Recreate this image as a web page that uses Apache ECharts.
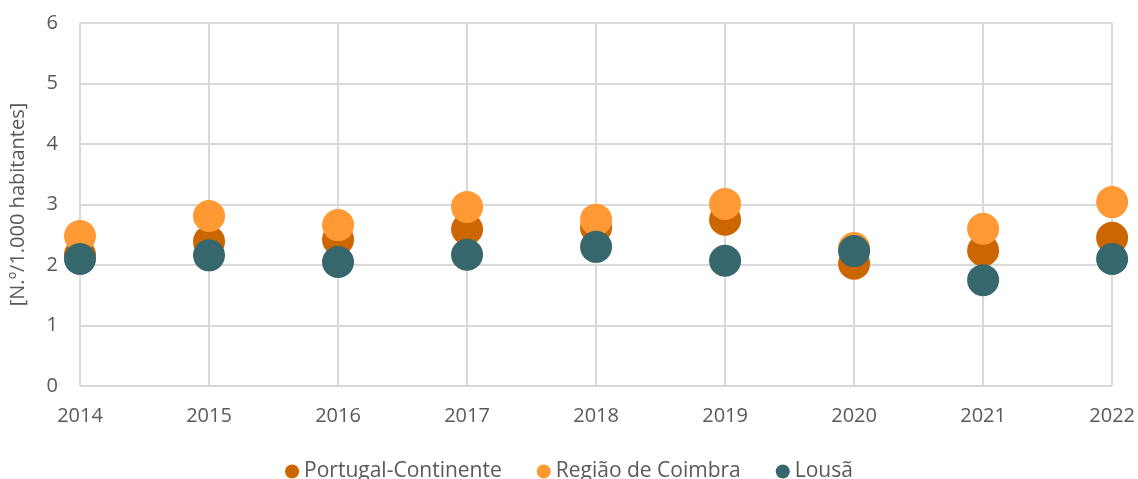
<!DOCTYPE html>
<html>
<head>
<meta charset="utf-8">
<script src="https://cdn.jsdelivr.net/npm/echarts@6/dist/echarts.min.js"></script>
<style>
  html, body { margin: 0; padding: 0; background: #fff; }
  #chart { width: 1138px; height: 479px; }
</style>
</head>
<body>
<div id="chart"></div>
<script>
// Years on the horizontal axis
const years = [2014, 2015, 2016, 2017, 2018, 2019, 2020, 2021, 2022];

// Rates per 1,000 inhabitants
const portugalContinente = [2.17, 2.39, 2.42, 2.59, 2.62, 2.75, 2.02, 2.24, 2.45];
const regiaoCoimbra      = [2.48, 2.81, 2.66, 2.96, 2.75, 3.01, 2.28, 2.60, 3.04];
const lousa              = [2.10, 2.16, 2.05, 2.17, 2.30, 2.07, 2.23, 1.75, 2.10];

const seriesNames = ['Portugal-Continente', 'Região de Coimbra', 'Lousã'];
const seriesColors = ['#CC6600', '#FF9933', '#36676D'];
const seriesValues = [portugalContinente, regiaoCoimbra, lousa];

const FONT = '"Open Sans", "Noto Sans", sans-serif';
const TEXT = '#595959';
const SIZE = 20;

const chart = echarts.init(document.getElementById('chart'));
chart.setOption({
  animation: false,
  grid: { left: 78, right: 25, top: 23, bottom: 93 },
  legend: {
    bottom: -8,
    left: 'center',
    icon: 'circle',
    itemWidth: 14,
    itemHeight: 14,
    itemGap: 35,
    textStyle: { fontFamily: FONT, fontSize: 21, color: TEXT },
    data: seriesNames
  },
  xAxis: {
    type: 'value',
    min: 2014, max: 2022, interval: 1,
    axisLine: { show: false },
    axisTick: { show: false },
    splitLine: { show: true, lineStyle: { color: '#D9D9D9', width: 2 } },
    axisLabel: {
      fontFamily: FONT, fontSize: SIZE, color: TEXT, margin: 20,
      formatter: v => String(v)
    }
  },
  yAxis: {
    type: 'value',
    min: 0, max: 6, interval: 1,
    name: '[N.º/1.000 habitantes]',
    nameLocation: 'middle',
    nameGap: 52,
    nameTextStyle: { fontFamily: FONT, fontSize: SIZE, color: TEXT },
    axisLine: { show: false },
    axisTick: { show: false },
    splitLine: { show: true, lineStyle: { color: '#D9D9D9', width: 2 } },
    axisLabel: { fontFamily: FONT, fontSize: SIZE, color: TEXT, margin: 22 }
  },
  series: seriesNames.map((name, i) => ({
    name: name,
    type: 'scatter',
    symbol: 'circle',
    symbolSize: 32,
    itemStyle: { color: seriesColors[i], opacity: 1 },
    data: years.map((y, j) => [y, seriesValues[i][j]])
  }))
});
</script>
</body>
</html>
